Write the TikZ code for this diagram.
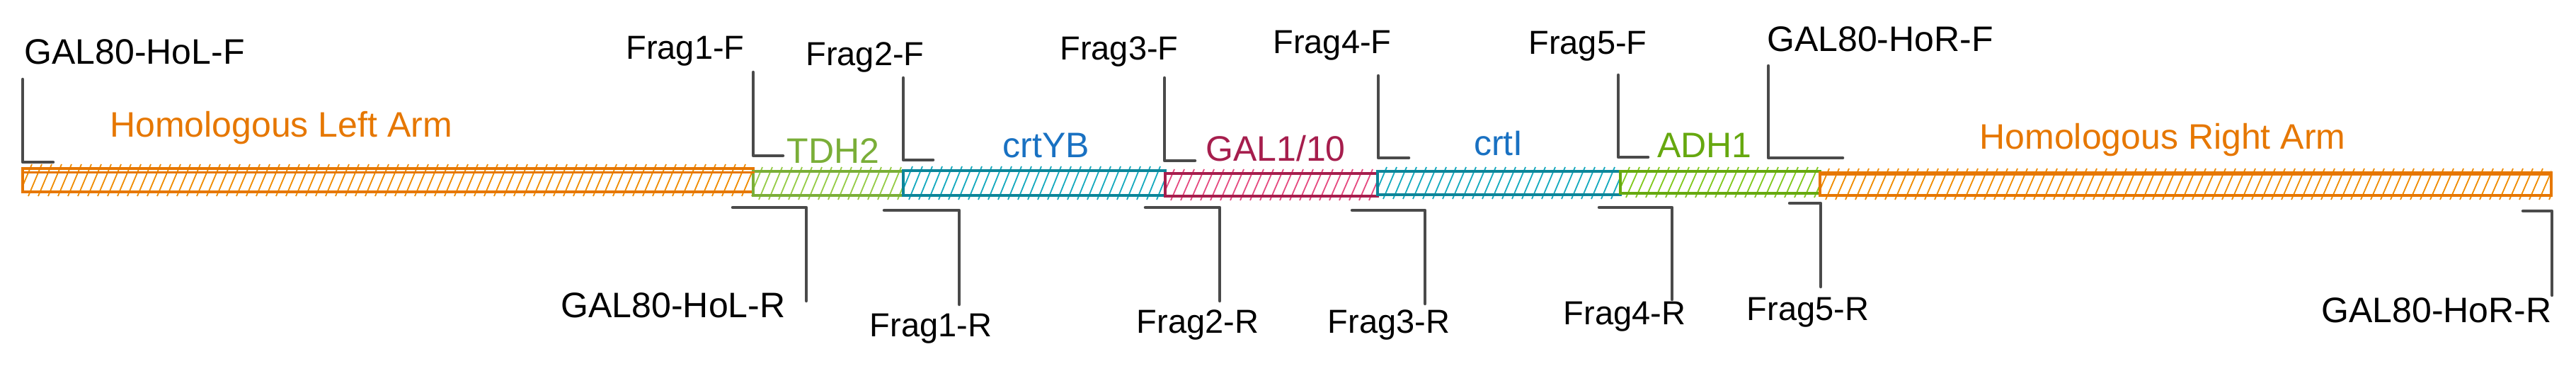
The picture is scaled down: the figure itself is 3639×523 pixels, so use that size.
\documentclass[tikz,border=0pt]{standalone}
\usepackage{fontspec}
\setmainfont{Liberation Sans}
\definecolor{primer}{HTML}{4A4A4A}
\definecolor{orS}{HTML}{E67700}
\definecolor{orH}{HTML}{F08C00}
\definecolor{tdS}{RGB}{122,174,56}
\definecolor{tdH}{RGB}{150,204,70}
\definecolor{adS}{HTML}{66A80F}
\definecolor{adH}{HTML}{82C91E}
\definecolor{tlS}{HTML}{0C8599}
\definecolor{tlH}{HTML}{15AABF}
\definecolor{blT}{HTML}{1971C2}
\definecolor{mgS}{HTML}{A61E4D}
\definecolor{mgH}{HTML}{E64980}
\newcommand{\genebox}[7]{%
  \begin{scope}
    \clip (#2,{#4-7}) rectangle (#3,{#5+7});
    \pgfmathtruncatemacro{\nh}{(#3-#2+40)/14}
    \foreach \k in {0,...,\nh}{
      \draw[#7, line width=1.8pt] ({#2-20+\k*14},{#5+6}) -- ++(19,{-(#5-#4+12)});
    }
  \end{scope}
  \node[draw=#6, line width=3.5pt, inner sep=0pt, rectangle,
        minimum width={(#3-#2)*1pt}, minimum height={(#5-#4)*1pt}]
        (#1) at ({(#2+#3)/2},{(#4+#5)/2}) {};
}
\tikzset{
  primerline/.style={draw=primer, line width=4.5pt, line cap=round, line join=round},
  plabel/.style={font=\fontsize{47}{50}\selectfont, text=black, inner sep=0pt, anchor=base},
  wlabel/.style={font=\fontsize{50}{54}\selectfont, text=black, inner sep=0pt, anchor=base},
  glabel/.style={font=\fontsize{50}{54}\selectfont, inner sep=0pt, anchor=base},
}
\begin{document}
\begin{tikzpicture}[x=1pt,y=-1pt]
\useasboundingbox (0,0) rectangle (3639,523);
\fill[white] (0,0) rectangle (3639,523);

% gene segments
\genebox{larm}{32}{1064}{238}{271}{orS}{orH}
\genebox{tdh}{1064}{1276}{242}{276}{tdS}{tdH}
\genebox{crtyb}{1276}{1646}{241}{276}{tlS}{tlH}
\genebox{gal}{1646}{1946}{245}{277}{mgS}{mgH}
\genebox{crti}{1946}{2289}{242}{275}{tlS}{tlH}
\genebox{adh}{2289}{2571}{242}{273}{adS}{adH}
\genebox{rarm}{2571}{3604}{244}{276}{orS}{orH}
\draw[orS, line width=2.5pt] ([yshift=-7pt]larm.north west) -- ([yshift=-7pt]larm.north east);
\draw[orS, line width=2pt] ([yshift=-5pt]rarm.north west) -- ([yshift=-5pt]rarm.north east);

% segment labels
\node[glabel, text=orS] (tlarm) at (397,193) {Homologous Left Arm};
\node[glabel, text=tdS] (ttdh) at (1177,230) {TDH2};
\node[glabel, text=blT] (tcrtyb) at (1478,222) {crtYB};
\node[glabel, text=mgS] (tgal) at (1802,227) {GAL1/10};
\node[glabel, text=blT] (tcrti) at (2117,219) {crtI};
\node[glabel, text=adS] (tadh) at (2408,222) {ADH1};
\node[glabel, text=orS] (trarm) at (3055,210) {Homologous Right Arm};

% forward primers
\node[wlabel] (hlf) at (190,90) {GAL80-HoL-F};
\node[plabel] (f1f) at (968,83) {Frag1-F};
\node[plabel] (f2f) at (1222,92) {Frag2-F};
\node[plabel] (f3f) at (1581,84) {Frag3-F};
\node[plabel] (f4f) at (1882,75) {Frag4-F};
\node[plabel] (f5f) at (2243,76) {Frag5-F};
\node[wlabel] (hrf) at (2656,72) {GAL80-HoR-F};

\draw[primerline] (32,112) |- (75,229);
\draw[primerline] (1064,102) |- (1106,220);
\draw[primerline] (1276,110) |- (1318,226);
\draw[primerline] (1645,110) |- (1688,227);
\draw[primerline] (1947,107) |- (1990,223);
\draw[primerline] (2286,106) |- (2328,222);
\draw[primerline] (2498,93) |- (2603,223);

% reverse primers
\node[wlabel] (hlr) at (951,448) {GAL80-HoL-R};
\node[plabel] (f1r) at (1315,475) {Frag1-R};
\node[plabel] (f2r) at (1692,470) {Frag2-R};
\node[plabel] (f3r) at (1962,470) {Frag3-R};
\node[plabel] (f4r) at (2295,458) {Frag4-R};
\node[plabel] (f5r) at (2554,452) {Frag5-R};
\node[wlabel] (hrr) at (3442,455) {GAL80-HoR-R};

\draw[primerline] (1035,293) -| (1139,425);
\draw[primerline] (1249,297) -| (1355,430);
\draw[primerline] (1618,293) -| (1723,425);
\draw[primerline] (1910,297) -| (2013,429);
\draw[primerline] (2259,293) -| (2362,423);
\draw[primerline] (2528,287) -| (2572,405);
\draw[primerline] (3564,298) -| (3605,417);
\end{tikzpicture}
\end{document}
